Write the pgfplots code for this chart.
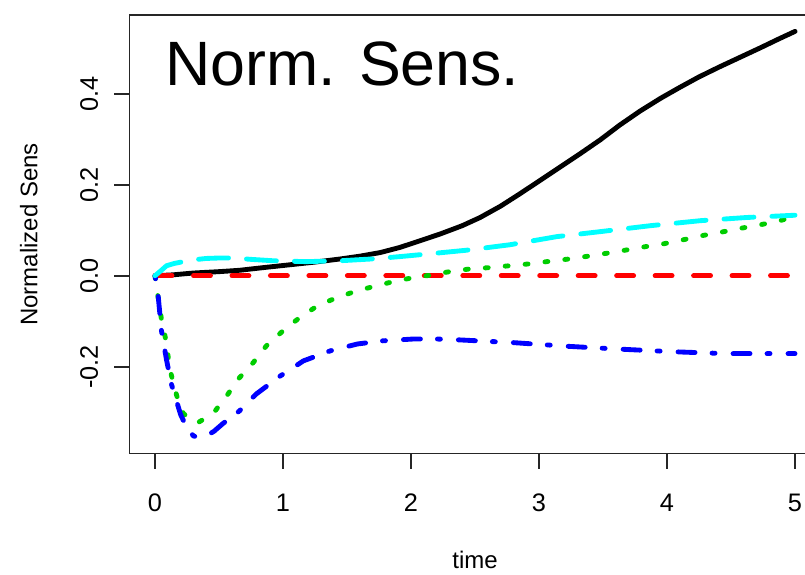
\documentclass[border=0pt]{standalone}
\usepackage{fontspec}
\setmainfont{Liberation Sans}
\usepackage{pgfplots}
\pgfplotsset{compat=1.18}
\definecolor{rgreen}{RGB}{0,205,0}
\definecolor{rblue}{RGB}{0,0,255}
\definecolor{rcyan}{RGB}{0,255,255}
\definecolor{rred}{RGB}{255,0,0}
\begin{document}
\begin{tikzpicture}
\begin{axis}[
  scale only axis,
  width=518.4pt, height=328.8pt,
  xmin=-0.2, xmax=5.2, ymin=-0.391, ymax=0.5725,
  axis line style={line width=1.2pt, black!85},
  tick align=outside,
  major tick length=11.25pt,
  every tick/.style={black!85, line width=1.2pt},
  xtick pos=bottom, ytick pos=left,
  xtick={0,1,2,3,4,5},
  xticklabels={0,1,2,3,4,5},
  ytick={-0.2,0,0.2,0.4},
  yticklabels={-0.2,0.0,0.2,0.4},
  /pgf/number format/assume math mode=true,
  ticklabel style={font=\fontsize{19}{22}\selectfont, inner sep=0pt},
  xticklabel style={anchor=north, yshift=-18.75pt},
  yticklabel style={rotate=90, anchor=south, yshift=12pt},
  xlabel={time},
  ylabel={Normalized Sens},
  label style={font=\fontsize{18}{21}\selectfont, inner sep=0pt},
  xlabel style={at={(axis description cs:0.5,-0.263)}, anchor=base},
  ylabel style={at={(axis description cs:-0.1331,0.5)}, anchor=base},
  every axis plot/.append style={line width=3.64pt, line cap=round, line join=round},
  clip=false,
]
% black, solid
\addplot[black] coordinates {
(0,0) (0.14,0.002) (0.3,0.006) (0.5,0.009) (0.66,0.012) (0.85,0.018)
(1.05,0.024) (1.25,0.03) (1.45,0.037) (1.6,0.043) (1.76,0.051) (1.91,0.062)
(2.05,0.075) (2.23,0.092) (2.4,0.11) (2.54,0.128) (2.7,0.153) (2.85,0.18)
(3.0,0.208) (3.16,0.238) (3.32,0.268) (3.48,0.299) (3.63,0.331) (3.79,0.362)
(3.95,0.39) (4.10,0.414) (4.25,0.437) (4.41,0.459) (4.57,0.48) (4.73,0.501)
(4.87,0.52) (5.0,0.537)
};
% red, dashed
\addplot[rred, dash pattern=on 12.75pt off 16.1pt] coordinates {
(0,0) (1,0) (2,0) (3,0) (4,0) (5,0)
};
% green, dotted
\addplot[rgreen, dash pattern=on 2.25pt off 12.75pt] coordinates {
(0,0) (0.02,-0.04) (0.05,-0.095) (0.08,-0.135) (0.12,-0.21) (0.17,-0.264)
(0.22,-0.302) (0.28,-0.318) (0.34,-0.322) (0.40,-0.312) (0.47,-0.297)
(0.57,-0.26) (0.66,-0.224) (0.77,-0.19) (0.87,-0.154) (1.0,-0.121)
(1.13,-0.092) (1.27,-0.066) (1.42,-0.048) (1.58,-0.033) (1.73,-0.022)
(1.875,-0.012) (2.02,-0.004) (2.17,0.002) (2.3,0.009) (2.46,0.015)
(2.62,0.018) (2.77,0.022) (2.92,0.026) (3.06,0.031) (3.21,0.036)
(3.36,0.042) (3.52,0.049) (3.67,0.056) (3.81,0.063) (3.97,0.07)
(4.11,0.078) (4.27,0.088) (4.41,0.095) (4.57,0.104) (4.71,0.111)
(4.87,0.12) (5.0,0.131)
};
% blue, dot-dash
\addplot[rblue, dash pattern=on 2.25pt off 13.5pt on 12.75pt off 12.75pt] coordinates {
(0,0) (0.02,-0.03) (0.05,-0.12) (0.09,-0.185) (0.13,-0.24) (0.2,-0.305)
(0.25,-0.335) (0.3,-0.352) (0.35,-0.356) (0.40,-0.352) (0.46,-0.342)
(0.53,-0.325) (0.66,-0.297) (0.79,-0.26) (0.98,-0.22) (1.16,-0.187)
(1.37,-0.165) (1.58,-0.15) (1.78,-0.143) (2.02,-0.139) (2.2,-0.139)
(2.38,-0.141) (2.8,-0.147) (3.22,-0.155) (3.61,-0.161) (4.05,-0.167)
(4.44,-0.171) (4.86,-0.171) (5.0,-0.171)
};
% cyan, long dash
\addplot[rcyan, dash pattern=on 22.5pt off 13.5pt] coordinates {
(0,0) (0.05,0.012) (0.09,0.022) (0.15,0.027) (0.22,0.031) (0.3,0.035)
(0.4,0.038) (0.5,0.039) (0.61,0.039) (0.75,0.036) (0.92,0.033) (1.18,0.031)
(1.45,0.033) (1.7,0.037) (1.91,0.042) (2.1,0.047) (2.43,0.056) (2.77,0.068)
(3.14,0.086) (3.48,0.097) (3.87,0.11) (4.26,0.121) (4.62,0.128) (5.0,0.133)
};
\node[anchor=base west, inner sep=0pt, font=\fontsize{47}{52}\selectfont]
  at (axis cs:0.078,0.419) {Norm. Sens.};
\coordinate (BBtl) at (axis cs:-1.211,0.606);
\coordinate (BBbr) at (axis cs:5.078,-0.6556);
\end{axis}
\pgfresetboundingbox
\useasboundingbox (BBtl) rectangle (BBbr);
\end{tikzpicture}
\end{document}
